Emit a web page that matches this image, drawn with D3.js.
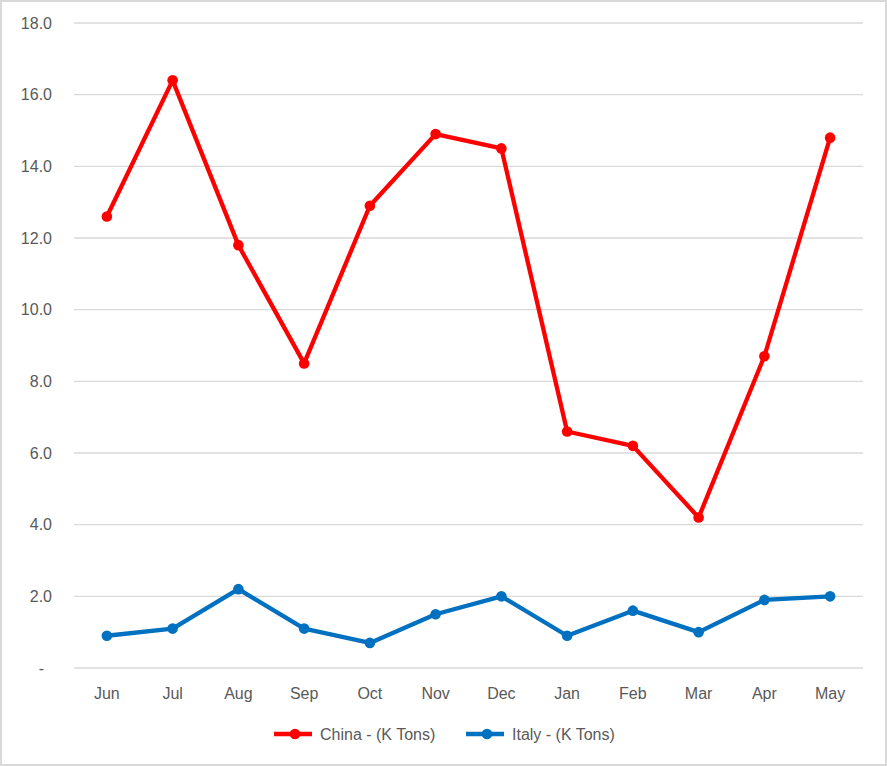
<!DOCTYPE html>
<html><head><meta charset="utf-8">
<script src="https://cdn.jsdelivr.net/npm/d3@7"></script>
<style>body{margin:0;background:#fff}svg{display:block}</style>
</head><body><svg id="c" width="887" height="766"></svg>
<script>
const months = ["Jun","Jul","Aug","Sep","Oct","Nov","Dec","Jan","Feb","Mar","Apr","May"];
const china = [12.6,16.4,11.8,8.5,12.9,14.9,14.5,6.6,6.2,4.2,8.7,14.8];
const italy = [0.9,1.1,2.2,1.1,0.7,1.5,2.0,0.9,1.6,1.0,1.9,2.0];
const yTicks = [0,2,4,6,8,10,12,14,16,18];
const seriesNames = ["China - (K Tons)","Italy - (K Tons)"];
const colors = ["#ff0000","#0070c0"];

const svg = d3.select("#c");
const font = "Liberation Sans, Arial, sans-serif";
const txt = "#595959";
svg.append("rect").attr("x",1).attr("y",1).attr("width",885).attr("height",764)
  .attr("fill","#fff").attr("stroke","#d9d9d9").attr("stroke-width",2);

const x = d3.scaleBand().domain(months).range([74,863]);
const y = d3.scaleLinear().domain([0,18]).range([668,23]);

const g = svg.append("g");
g.selectAll("line.grid").data(yTicks).join("line")
  .attr("x1",74).attr("x2",863).attr("y1",d=>y(d)).attr("y2",d=>y(d))
  .attr("stroke","#d9d9d9").attr("stroke-width",1.3);
g.selectAll("text.yt").data(yTicks).join("text")
  .attr("x",d=>d===0?44:52).attr("y",d=>y(d)).attr("dy","0.35em").attr("text-anchor","end")
  .attr("font-family",font).attr("font-size",16).attr("fill",txt)
  .text(d=>d===0?"-":d.toFixed(1));
g.selectAll("text.xt").data(months).join("text")
  .attr("x",d=>x(d)+x.bandwidth()/2).attr("y",699).attr("text-anchor","middle")
  .attr("font-family",font).attr("font-size",16).attr("fill",txt).text(d=>d);

const line = d3.line().x((d,i)=>x(months[i])+x.bandwidth()/2).y(d=>y(d));
[china,italy].forEach((s,k)=>{
  g.append("path").datum(s).attr("d",line).attr("fill","none")
    .attr("stroke",colors[k]).attr("stroke-width",4.3).attr("stroke-linejoin","round");
  g.selectAll("circle.s"+k).data(s).join("circle")
    .attr("cx",(d,i)=>x(months[i])+x.bandwidth()/2).attr("cy",d=>y(d)).attr("r",5.3)
    .attr("fill",colors[k]);
});

const legX = [274,466];
seriesNames.forEach((n,k)=>{
  const lg = svg.append("g").attr("transform",`translate(${legX[k]},734)`);
  lg.append("line").attr("x1",0).attr("x2",38).attr("stroke",colors[k]).attr("stroke-width",4.3);
  lg.append("circle").attr("cx",21).attr("r",5.3).attr("fill",colors[k]);
  lg.append("text").attr("x",46).attr("dy","0.35em").attr("font-family",font)
    .attr("font-size",16).attr("fill",txt).text(n);
});
</script></body></html>
